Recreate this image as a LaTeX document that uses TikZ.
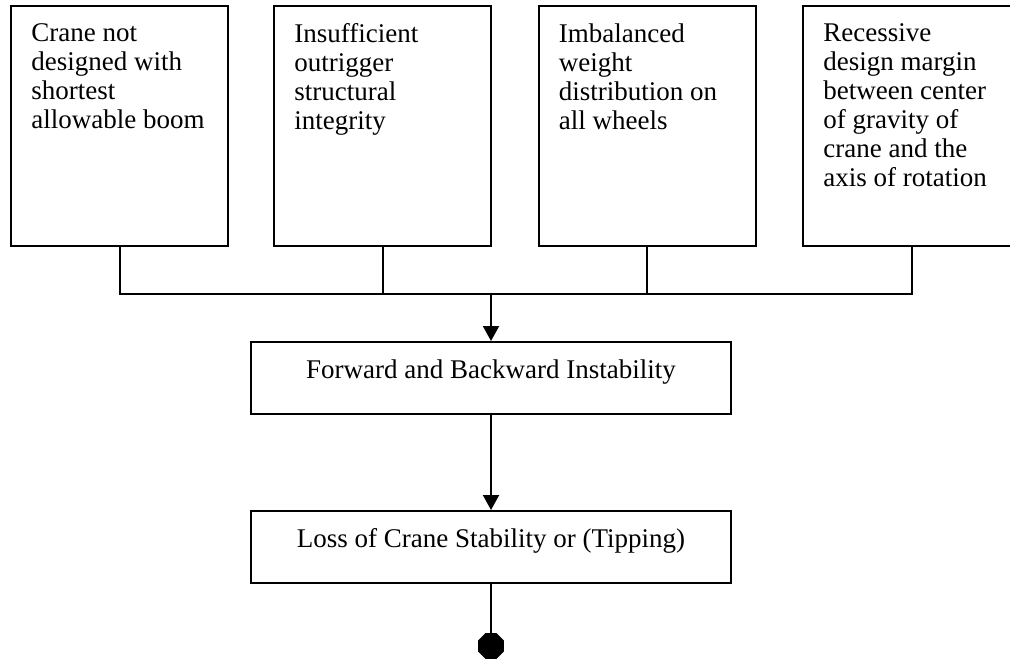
\documentclass[tikz,border=0pt]{standalone}
\usepackage{fontspec}
\setmainfont{Liberation Serif}
\usetikzlibrary{arrows.meta,shapes.geometric}
\newcommand{\drawthick}{\draw[line width=1pt]}
\tikzset{
  causebox/.style={draw,line width=1pt,minimum width=108.5pt,minimum height=120pt,inner sep=0pt},
  causetext/.style={anchor=north west,align=left,inner sep=0pt,font=\fontsize{13.5}{14.5}\selectfont},
  effectbox/.style={draw,line width=1pt,minimum width=240pt,minimum height=36pt,
    font=\fontsize{13.5}{14.5}\selectfont,text height=8.5pt,text depth=8.5pt},
  flow/.style={line width=1pt,-{Triangle[length=7.5pt,width=8pt]}},
  endstop/.style={regular polygon,regular polygon sides=8,fill=black,minimum size=14pt,inner sep=0pt}
}

\begin{document}
\begin{tikzpicture}[x=0.5pt,y=-0.5pt]
\useasboundingbox (0,0) rectangle (1010,660);
% causes
\node[causebox] (c1) at (119.5,126) {};
\node[causebox] (c2) at (382.5,126) {};
\node[causebox] (c3) at (647,126) {};
\node[causebox] (c4) at (911.5,126) {};
\node[causetext] (t1) at ([shift={(10.5pt,-9pt)}]c1.north west) {Crane not\\designed with\\shortest\\allowable boom};
\node[causetext] (t2) at ([shift={(10.5pt,-9pt)}]c2.north west) {Insufficient\\outrigger\\structural\\integrity};
\node[causetext] (t3) at ([shift={(10.5pt,-9pt)}]c3.north west) {Imbalanced\\weight\\distribution on\\all wheels};
\node[causetext] (t4) at ([shift={(10.5pt,-9pt)}]c4.north west) {Recessive\\design margin\\between center\\of gravity of\\crane and the\\axis of rotation};
% effects
\node[effectbox] (fwd) at (491,378) {Forward and Backward Instability};
\node[effectbox] (loss) at (491,547) {Loss of Crane Stability or (Tipping)};
\node[endstop] (stop) at (491,646) {};
% connectors
\coordinate (bus) at (491,294);
\drawthick (c1.south) |- (bus) -| (c4.south);
\drawthick (c2.south) -- (c2.south |- bus);
\drawthick (c3.south) -- (c3.south |- bus);
\draw[flow] (bus) -- (fwd.north);
\draw[flow] (fwd.south) -- (loss.north);
\drawthick (loss.south) -- (stop.north);
\end{tikzpicture}
\end{document}
